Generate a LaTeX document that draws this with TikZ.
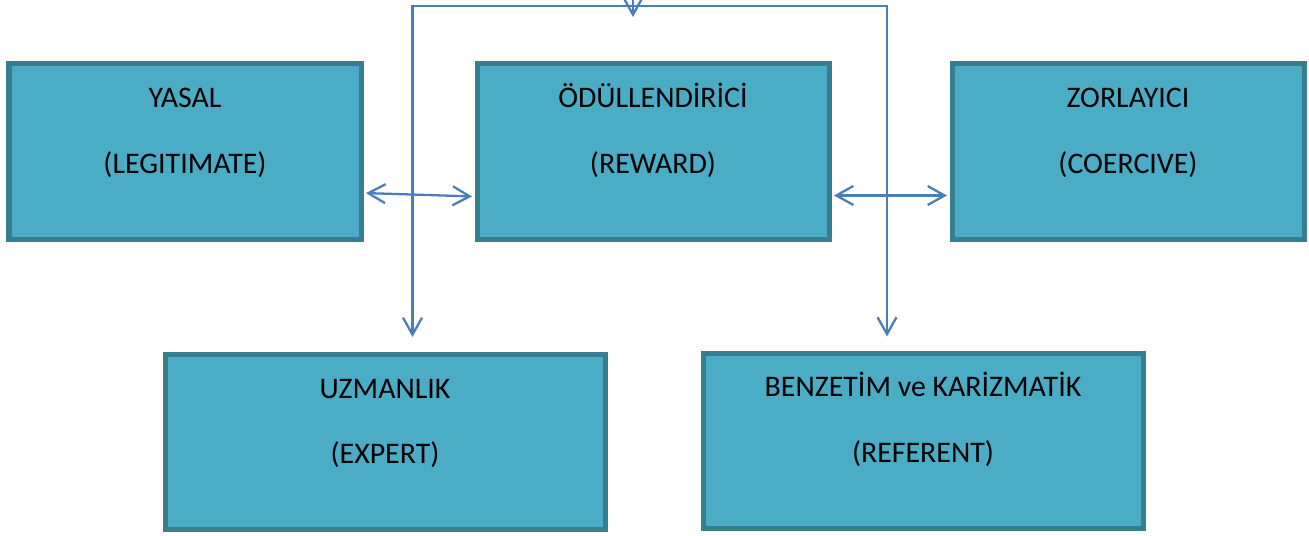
\documentclass[tikz,border=0pt]{standalone}
\usepackage{fontspec}
\setmainfont{Carlito}
\usetikzlibrary{positioning,arrows.meta}
\definecolor{boxfill}{HTML}{4BACC6}
\definecolor{boxline}{RGB}{55,126,143}
\definecolor{arrowblue}{HTML}{4A7EBB}

\begin{document}
\begin{tikzpicture}[
    node distance=2.22cm,
    power/.style={rectangle, draw=boxline, fill=boxfill, line width=0.1cm, minimum width=7.04cm, minimum height=3.5cm, align=center, font=\fontsize{17}{20}\selectfont},
    wide/.style={power, minimum width=8.8cm},
    conn/.style={->, >={Straight Barb[length=3.4mm, width=3.8mm]}, line width=1.3pt, draw=arrowblue}
    ]
    \useasboundingbox (0,0) rectangle (26.18,10.70);

    % Ust sira
    \node[power] (yasal) at (3.70,7.67) {\strut YASAL\\[17.4pt](LEGITIMATE)\\[6.5pt]\mbox{}};
    \node[power, right=of yasal] (odul) {\strut ÖDÜLLENDİRİCİ\\[17.4pt](REWARD)\\[6.5pt]\mbox{}};
    \node[power, right=2.36cm of odul] (zor) {\strut ZORLAYICI\\[17.4pt](COERCIVE)\\[6.5pt]\mbox{}};

    % Alt sira
    \node[wide] (uzman) at (7.70,1.86) {\strut UZMANLIK\\[17.4pt](EXPERT)\\[6.5pt]\mbox{}};
    \node[wide] (benzetim) at (18.46,1.89) {\strut BENZETİM ve KARİZMATİK\\[17.4pt](REFERENT)\\[6.5pt]\mbox{}};

    % Yatay oklar
    \draw[conn, <->, shorten <=0.05cm, shorten >=0.05cm] ([yshift=-0.83cm]yasal.east) -- ([yshift=-0.9cm]odul.west);
    \draw[conn, <->, shorten <=0.05cm, shorten >=0.05cm] ([yshift=-0.88cm]odul.east) -- ([yshift=-0.88cm]zor.west);

    % Ust baglanti
    \coordinate (tl) at (8.25,10.58);
    \coordinate (tr) at (17.74,10.58);
    \coordinate (kaynak) at (12.66,11.2);
    \coordinate (hedef) at (12.66,10.36);
    \draw[conn, <->] ([yshift=0.3cm]uzman.north -| tl) |- (tr) -- ([yshift=0.28cm]benzetim.north -| tr);
    \draw[conn] (kaynak) -- (hedef);

\end{tikzpicture}
\end{document}
